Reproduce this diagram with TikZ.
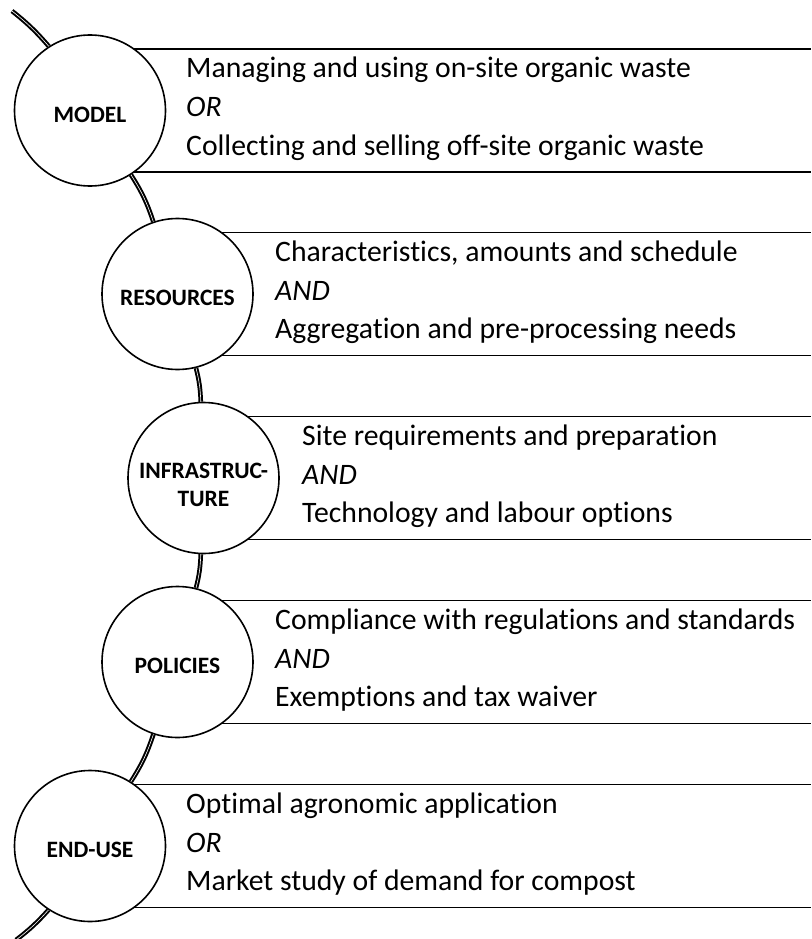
\documentclass[tikz,border=0pt]{standalone}
\usepackage{fontspec}
\setmainfont{Carlito}[Ligatures=NoCommon]
\usetikzlibrary{backgrounds}
\begin{document}
\begin{tikzpicture}[x=1pt,y=-1pt,
  stage/.style={circle,draw,line width=1.6pt,fill=white,minimum size=151pt,inner sep=0pt},
  stagelabel/.style={font=\fontsize{23.5}{28}\selectfont\bfseries,align=center,inner sep=0pt,yshift=-4pt},
  rule/.style={line width=1.6pt},
  spine/.style={double,line width=2pt,double distance=0.6pt},
  body/.style={font=\fontsize{29.7}{34}\selectfont,anchor=base west,inner sep=0pt}]
\useasboundingbox (0,0) rectangle (811,939);
\coordinate (rightedge) at (811,0);
\coordinate (spinetop) at (12,11);
\coordinate (spinebottom) at (16,940);

% stage circles
\node[stage] (model) at (90,110.5) {};
\node[stage] (resources) at (177.5,294) {};
\node[stage] (infra) at (203.5,478) {};
\node[stage] (policies) at (177.5,662) {};
\node[stage] (enduse) at (90,846) {};

\node[stagelabel] (modelL) at (model) {MODEL};
\node[stagelabel] (resourcesL) at (resources) {RESOURCES};
\node[stagelabel,yshift=-2.5pt] (infraL) at (infra) {INFRASTRUC-\\TURE};
\node[stagelabel] (policiesL) at (policies) {POLICIES};
\node[stagelabel] (enduseL) at (enduse) {END-USE};

% horizontal rules framing each text block
\begin{scope}[on background layer]
  \foreach \s in {model,resources,infra,policies,enduse}{
    \draw[rule] ([yshift=61.5pt]\s.center) -- ([yshift=61.5pt]\s.center -| rightedge);
    \draw[rule] ([yshift=-61.5pt]\s.center) -- ([yshift=-61.5pt]\s.center -| rightedge);
  }
\end{scope}

% curved spine through the stages
\draw[spine] (spinetop) to[bend left=5.4] (model);
\draw[spine] (model) to[bend left=7] (resources);
\draw[spine] (resources) to[bend left=6] (infra);
\draw[spine] (infra) to[bend left=6] (policies);
\draw[spine] (policies) to[bend left=7] (enduse);
\draw[spine] (enduse) to[bend left=5.2] (spinebottom);

% texts
\node[body] (m1) at (186,78) {Managing and using on-site organic waste};
\node[body] (m2) at (186,117) {\itshape OR};
\node[body] (m3) at (186,155) {Collecting and selling off-site organic waste};

\node[body] (r1) at (275,261.5) {Characteristics, amounts and schedule};
\node[body] (r2) at (275,300.5) {\itshape AND};
\node[body] (r3) at (275,338.5) {Aggregation and pre-processing needs};

\node[body] (i1) at (302,445.5) {Site requirements and preparation};
\node[body] (i2) at (302,484.5) {\itshape AND};
\node[body] (i3) at (302,522.5) {Technology and labour options};

\node[body] (p1) at (275,629.5) {Compliance with regulations and standards};
\node[body] (p2) at (275,668.5) {\itshape AND};
\node[body] (p3) at (275,706.5) {Exemptions and tax waiver};

\node[body] (e1) at (186,813.5) {Optimal agronomic application};
\node[body] (e2) at (186,852.5) {\itshape OR};
\node[body] (e3) at (186,890.5) {Market study of demand for compost};
\end{tikzpicture}
\end{document}
